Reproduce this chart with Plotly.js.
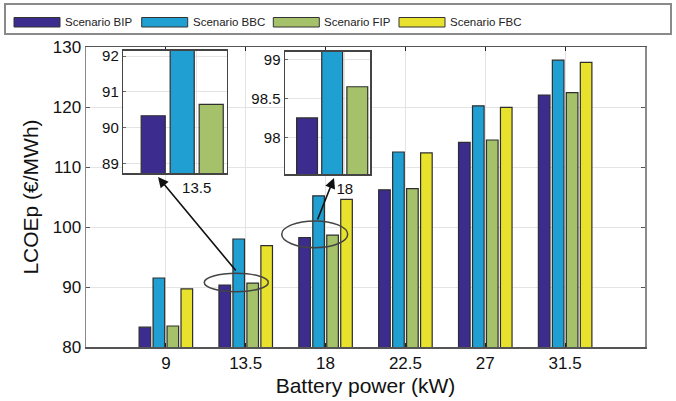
<!DOCTYPE html>
<html>
<head>
<meta charset="utf-8">
<script src="https://cdn.plot.ly/plotly-3.0.1.min.js"></script>
<style>html,body{margin:0;padding:0;background:#fff;}#chart{width:676px;height:401px;}</style>
</head>
<body>
<div id="chart"></div>
<script>
// ---- data ----
const categories = ['9', '13.5', '18', '22.5', '27', '31.5'];
const seriesNames = ['Scenario BIP', 'Scenario BBC', 'Scenario FIP', 'Scenario FBC'];
const bipValues = [83.3, 90.33, 98.25, 106.2, 114.1, 122.0];
const bbcValues = [91.5, 98.0, 105.2, 112.5, 120.2, 127.8];
const fipValues = [83.5, 90.65, 98.65, 106.4, 114.5, 122.4];
const fbcValues = [89.7, 96.9, 104.6, 112.35, 119.95, 127.45];
const seriesColors = ['#3b2c8e', '#209fd2', '#a5c26a', '#e8e22c'];
const yTitle = 'LCOEp (€/MWh)';
const xTitle = 'Battery power (kW)';

// ---- layout constants (pixels) ----
const W = 676, H = 401;
const M = {l: 86, r: 31, t: 47, b: 54};
const PW = W - M.l - M.r, PH = H - M.t - M.b;
const px2x = p => (p - M.l) / PW;
const px2y = p => (H - M.b - p) / PH;

const allValues = [bipValues, bbcValues, fipValues, fbcValues];
const traces = [];
const subplots = [['x', 'y'], ['x2', 'y2'], ['x3', 'y3']];
subplots.forEach(([xa, ya], si) => {
  allValues.forEach((vals, i) => {
    traces.push({
      type: 'bar',
      x: categories,
      y: vals,
      name: seriesNames[i],
      xaxis: xa, yaxis: ya,
      showlegend: false,
      marker: {color: seriesColors[i], line: {color: '#2e2e2e', width: 1.2}},
      hoverinfo: 'skip'
    });
  });
});

const font = 'Liberation Sans, Arial, Helvetica, sans-serif';
const gridC = '#e4e4e4';

// inset pixel boxes
const in1 = {x0: 123.3, x1: 226.7, y0: 50.7, y1: 173.3};
const in2 = {x0: 285, x1: 370, y0: 51.7, y1: 174};

const insetAxisX = (box, range, anchor) => ({
  type: 'category', domain: [px2x(box.x0), px2x(box.x1)], anchor: anchor,
  range: range, showgrid: true, gridcolor: gridC, showline: true, linecolor: '#444', linewidth: 1.5,
  mirror: true, ticks: '', tickfont: {size: 15, color: '#111'}, zeroline: false, fixedrange: true
});
const insetAxisY = (box, range, dtick, anchor) => ({
  domain: [px2y(box.y1), px2y(box.y0)], anchor: anchor,
  range: range, dtick: dtick, showgrid: true, gridcolor: gridC, showline: true, linecolor: '#444', linewidth: 1.5,
  mirror: true, ticks: 'inside', ticklen: 3, tickcolor: '#666', tickfont: {size: 15, color: '#111'}, zeroline: false
});

// legend built from series names & colors
const legendSwatchX = [14, 141.7, 273.3, 399];
const shapes = [];
const annotations = [];
shapes.push({type: 'rect', xref: 'paper', yref: 'paper', x0: px2x(5), x1: px2x(671), y0: px2y(34), y1: px2y(4),
  line: {color: '#8a8a8a', width: 2}, fillcolor: 'rgba(0,0,0,0)', layer: 'above'});
seriesNames.forEach((n, i) => {
  const sx = legendSwatchX[i];
  shapes.push({type: 'rect', xref: 'paper', yref: 'paper', x0: px2x(sx), x1: px2x(sx + 46), y0: px2y(27), y1: px2y(17.5),
    fillcolor: seriesColors[i], line: {color: '#333', width: 1}, layer: 'above'});
  annotations.push({xref: 'paper', yref: 'paper', x: px2x(sx + 49), y: px2y(22), xanchor: 'left', yanchor: 'middle',
    text: n, showarrow: false, font: {family: font, size: 11.5, color: '#222'}});
});

// ellipses (data coords)
shapes.push({type: 'circle', xref: 'x', yref: 'y', x0: 0.481, x1: 1.283, y0: 89.22, y1: 92.28,
  line: {color: '#444', width: 1.5}, layer: 'above'});
shapes.push({type: 'circle', xref: 'x', yref: 'y', x0: 1.451, x1: 2.277, y0: 96.55, y1: 101.0,
  line: {color: '#444', width: 1.5}, layer: 'above'});

// arrows
annotations.push({xref: 'paper', yref: 'paper', x: px2x(158), y: px2y(177), ax: 79, ay: 95,
  showarrow: true, arrowhead: 2, arrowsize: 1.3, arrowwidth: 1.6, arrowcolor: '#111', text: ''});
annotations.push({xref: 'paper', yref: 'paper', x: px2x(334), y: px2y(178), ax: -17, ay: 43,
  showarrow: true, arrowhead: 2, arrowsize: 1.3, arrowwidth: 1.6, arrowcolor: '#111', text: ''});

const layout = {
  width: W, height: H,
  margin: M,
  paper_bgcolor: '#fff', plot_bgcolor: '#fff',
  font: {family: font, color: '#111'},
  barmode: 'group', bargap: 0.3, bargroupgap: 0.17,
  showlegend: false,
  xaxis: {
    type: 'category', domain: [0, 1], anchor: 'y', range: [-1, 6],
    showgrid: true, gridcolor: gridC, showline: true, linecolor: '#555', linewidth: 1.5,
    mirror: 'ticks', ticks: 'inside', ticklen: 4, tickcolor: '#222',
    tickfont: {size: 17, color: '#111'},
    title: {text: xTitle, font: {size: 21, color: '#111'}, standoff: 6}, zeroline: false
  },
  yaxis: {
    domain: [0, 1], anchor: 'x', range: [80, 130], dtick: 10,
    showgrid: true, gridcolor: gridC, showline: true, linecolor: '#8a8a8a', linewidth: 1.5,
    mirror: 'ticks', ticks: 'inside', ticklen: 4, tickcolor: '#555',
    tickfont: {size: 17, color: '#111'},
    title: {text: yTitle, font: {size: 21, color: '#111'}, standoff: 8}, zeroline: false
  },
  xaxis2: insetAxisX(in1, [0.557, 1.181], 'y2'),
  yaxis2: insetAxisY(in1, [88.72, 92.15], 1, 'x2'),
  xaxis3: insetAxisX(in2, [1.584, 2.176], 'y3'),
  yaxis3: insetAxisY(in2, [97.53, 99.1], 0.5, 'x3'),
  shapes: shapes,
  annotations: annotations
};

Plotly.newPlot('chart', traces, layout, {staticPlot: true, displayModeBar: false});
</script>
</body>
</html>
